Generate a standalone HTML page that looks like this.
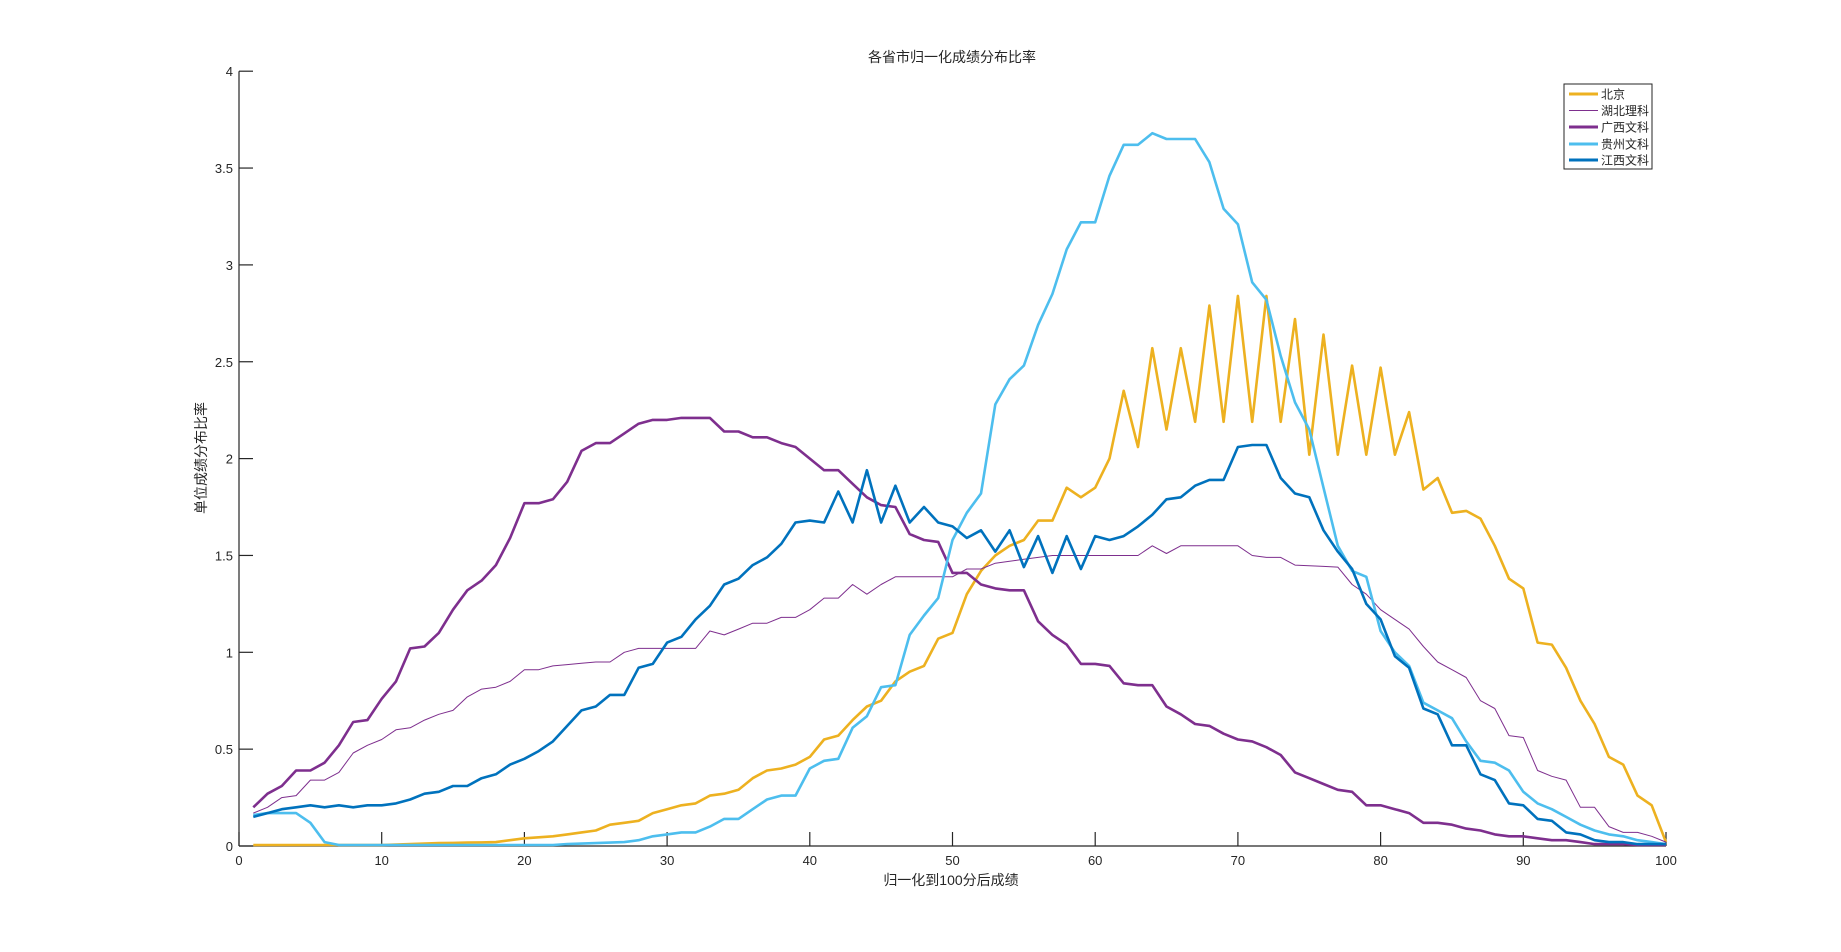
<!DOCTYPE html>
<html><head><meta charset="utf-8"><style>
html,body{margin:0;padding:0;background:#fff;}
svg{display:block;font-family:"Liberation Sans","Noto Sans CJK SC",sans-serif;}
</style></head><body>
<svg id="s" width="1841" height="952" xmlns="http://www.w3.org/2000/svg">
<rect width="1841" height="952" fill="#fff"/>
<g id="ax" stroke="#262626" stroke-width="1.2" fill="none"></g>
<g id="tx" fill="#262626" font-size="13"></g>
<g id="ln" fill="none" stroke-linejoin="round"></g>
<text x="952" y="62" text-anchor="middle" font-size="14" fill="#262626">各省市归一化成绩分布比率</text>
<text x="951" y="885" text-anchor="middle" font-size="14" fill="#262626">归一化到100分后成绩</text>
<text transform="translate(206,458) rotate(-90)" text-anchor="middle" font-size="14" fill="#262626">单位成绩分布比率</text>
<rect x="1564" y="84" width="88" height="85" fill="#fff" stroke="#262626" stroke-width="1"/>
<g font-size="12" fill="#262626">
<line x1="1569" y1="94" x2="1598" y2="94" stroke="#EDB120" stroke-width="3"/><text x="1601" y="98.5">北京</text>
<line x1="1569" y1="110.5" x2="1598" y2="110.5" stroke="#7E2F8E" stroke-width="1"/><text x="1601" y="115">湖北理科</text>
<line x1="1569" y1="127" x2="1598" y2="127" stroke="#7E2F8E" stroke-width="3"/><text x="1601" y="131.5">广西文科</text>
<line x1="1569" y1="144" x2="1598" y2="144" stroke="#4DBEEE" stroke-width="3"/><text x="1601" y="148.5">贵州文科</text>
<line x1="1569" y1="160" x2="1598" y2="160" stroke="#0072BD" stroke-width="3"/><text x="1601" y="164.5">江西文科</text>
</g>
</svg>
<script>
const X0=239,XS=14.27,Y0=846,YS=193.7;
const ns="http://www.w3.org/2000/svg";
function el(p,t,a,txt){const e=document.createElementNS(ns,t);for(const k in a)e.setAttribute(k,a[k]);if(txt!=null)e.textContent=txt;p.appendChild(e);return e;}
const ax=document.getElementById('ax'),tx=document.getElementById('tx'),ln=document.getElementById('ln');
el(ax,'line',{x1:X0,y1:Y0,x2:X0+100*XS,y2:Y0});
el(ax,'line',{x1:X0,y1:Y0,x2:X0,y2:Y0-4*YS});
for(let i=0;i<=10;i++){const x=X0+i*10*XS;el(ax,'line',{x1:x,y1:Y0,x2:x,y2:Y0-14});el(tx,'text',{x:x,y:Y0+19,'text-anchor':'middle'},String(i*10));}
for(let i=0;i<=8;i++){const y=Y0-i*0.5*YS;el(ax,'line',{x1:X0,y1:y,x2:X0+14,y2:y});el(tx,'text',{x:X0-6,y:y+5,'text-anchor':'end'},String(i*0.5));}
function fill(m){const a=[];const keys=Object.keys(m).map(Number).sort((a,b)=>a-b);
for(let x=1;x<=100;x++){if(m[x]!=null){a.push(m[x]);continue;}let lo=keys.filter(k=>k<x).pop(),hi=keys.find(k=>k>x);a.push(m[lo]+(m[hi]-m[lo])*(x-lo)/(hi-lo));}return a;}
const bj=fill({1:0.005,10:0.005,14:0.015,18:0.02,19:0.03,20:0.04,21:0.045,22:0.05,23:0.06,24:0.07,25:0.08,26:0.11,27:0.12,28:0.13,29:0.17,30:0.19,31:0.21,32:0.22,33:0.26,34:0.27,35:0.29,36:0.35,37:0.39,38:0.4,39:0.42,40:0.46,41:0.55,42:0.57,43:0.65,44:0.72,45:0.75,46:0.85,47:0.9,48:0.93,49:1.07,50:1.1,51:1.3,52:1.42,53:1.5,54:1.55,55:1.58,56:1.68,57:1.68,58:1.85,59:1.8,60:1.85,61:2.0,62:2.35,63:2.06,64:2.57,65:2.15,66:2.57,67:2.19,68:2.79,69:2.19,70:2.84,71:2.19,72:2.84,73:2.19,74:2.72,75:2.02,76:2.64,77:2.02,78:2.48,79:2.02,80:2.47,81:2.02,82:2.24,83:1.84,84:1.9,85:1.72,86:1.73,87:1.69,88:1.55,89:1.38,90:1.33,91:1.05,92:1.04,93:0.92,94:0.75,95:0.63,96:0.46,97:0.42,98:0.26,99:0.21,100:0.02});
const hb=fill({1:0.17,2:0.2,3:0.25,4:0.26,5:0.34,6:0.34,7:0.38,8:0.48,9:0.52,10:0.55,11:0.6,12:0.61,13:0.65,14:0.68,15:0.7,16:0.77,17:0.81,18:0.82,19:0.85,20:0.91,21:0.91,22:0.93,25:0.95,26:0.95,27:1.0,28:1.02,32:1.02,33:1.11,34:1.09,35:1.12,36:1.15,37:1.15,38:1.18,39:1.18,40:1.22,41:1.28,42:1.28,43:1.35,44:1.3,45:1.35,46:1.39,50:1.39,51:1.43,52:1.43,53:1.46,56:1.49,57:1.5,63:1.5,64:1.55,65:1.51,66:1.55,70:1.55,71:1.5,72:1.49,73:1.49,74:1.45,77:1.44,78:1.35,79:1.3,80:1.22,81:1.17,82:1.12,83:1.03,84:0.95,85:0.91,86:0.87,87:0.75,88:0.71,89:0.57,90:0.56,91:0.39,92:0.36,93:0.34,94:0.2,95:0.2,96:0.1,97:0.07,98:0.07,99:0.05,100:0.02});
const gx=[0.2,0.27,0.31,0.39,0.39,0.43,0.52,0.64,0.65,0.76,0.85,1.02,1.03,1.1,1.22,1.32,1.37,1.45,1.59,1.77,1.77,1.79,1.88,2.04,2.08,2.08,2.13,2.18,2.2,2.2,2.21,2.21,2.21,2.14,2.14,2.11,2.11,2.08,2.06,2.0,1.94,1.94,1.87,1.8,1.76,1.75,1.61,1.58,1.57,1.41,1.41,1.35,1.33,1.32,1.32,1.16,1.09,1.04,0.94,0.94,0.93,0.84,0.83,0.83,0.72,0.68,0.63,0.62,0.58,0.55,0.54,0.51,0.47,0.38,0.35,0.32,0.29,0.28,0.21,0.21,0.19,0.17,0.12,0.12,0.11,0.09,0.08,0.06,0.05,0.05,0.04,0.03,0.03,0.02,0.01,0.01,0.01,0.005,0.005,0.005];
const gz=fill({1:0.16,2:0.17,3:0.17,4:0.17,5:0.12,6:0.02,7:0.005,22:0.005,23:0.01,27:0.02,28:0.03,29:0.05,30:0.06,31:0.07,32:0.07,33:0.1,34:0.14,35:0.14,36:0.19,37:0.24,38:0.26,39:0.26,40:0.4,41:0.44,42:0.45,43:0.61,44:0.67,45:0.82,46:0.83,47:1.09,48:1.19,49:1.28,50:1.58,51:1.72,52:1.82,53:2.28,54:2.41,55:2.48,56:2.69,57:2.85,58:3.08,59:3.22,60:3.22,61:3.46,62:3.62,63:3.62,64:3.68,65:3.65,66:3.65,67:3.65,68:3.53,69:3.29,70:3.21,71:2.91,72:2.82,73:2.53,74:2.29,75:2.15,76:1.85,77:1.55,78:1.42,79:1.39,80:1.11,81:1.0,82:0.93,83:0.74,84:0.7,85:0.66,86:0.54,87:0.44,88:0.43,89:0.39,90:0.28,91:0.22,92:0.19,93:0.15,94:0.11,95:0.08,96:0.06,97:0.05,98:0.03,99:0.02,100:0.01});
const jx=[0.15,0.17,0.19,0.2,0.21,0.2,0.21,0.2,0.21,0.21,0.22,0.24,0.27,0.28,0.31,0.31,0.35,0.37,0.42,0.45,0.49,0.54,0.62,0.7,0.72,0.78,0.78,0.92,0.94,1.05,1.08,1.17,1.24,1.35,1.38,1.45,1.49,1.56,1.67,1.68,1.67,1.83,1.67,1.94,1.67,1.86,1.67,1.75,1.67,1.65,1.59,1.63,1.52,1.63,1.44,1.6,1.41,1.6,1.43,1.6,1.58,1.6,1.65,1.71,1.79,1.8,1.86,1.89,1.89,2.06,2.07,2.07,1.9,1.82,1.8,1.63,1.52,1.43,1.25,1.17,0.98,0.92,0.71,0.68,0.52,0.52,0.37,0.34,0.22,0.21,0.14,0.13,0.07,0.06,0.03,0.02,0.02,0.01,0.01,0.01];
function pl(d,c,w){el(ln,'polyline',{points:d.map((v,i)=>(X0+(i+1)*XS).toFixed(1)+','+(Y0-v*YS).toFixed(1)).join(' '),stroke:c,'stroke-width':w});}
pl(bj,'#EDB120',2.6);pl(hb,'#7E2F8E',1);pl(gx,'#7E2F8E',2.6);pl(gz,'#4DBEEE',2.6);pl(jx,'#0072BD',2.6);
</script>
</body></html>
